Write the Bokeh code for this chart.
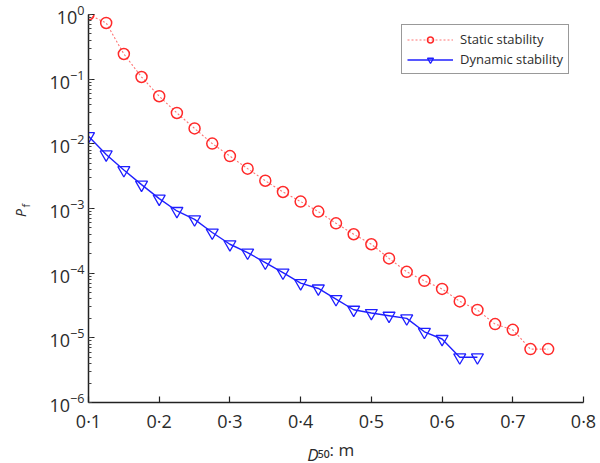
import math
from bokeh.plotting import figure
from bokeh.models import (FixedTicker, LogTicker, Range1d, Label, Legend, LegendItem)
from bokeh.embed import file_html
from bokeh.resources import INLINE

# ---- data ----
d50_static = [0.1, 0.125, 0.15, 0.175, 0.2, 0.225, 0.25, 0.275, 0.3, 0.325, 0.35,
              0.375, 0.4, 0.425, 0.45, 0.475, 0.5, 0.525, 0.55, 0.575, 0.6, 0.625,
              0.65, 0.675, 0.7, 0.725, 0.75]
pf_static = [1.0, 0.74, 0.245, 0.108, 0.0545, 0.030, 0.0173, 0.0101, 0.00646, 0.00413,
             0.00269, 0.0018, 0.00128, 0.000895, 0.00059, 0.0004, 0.00028, 0.000169,
             0.000105, 7.6e-5, 5.7e-5, 3.66e-5, 2.7e-5, 1.63e-5, 1.33e-5, 6.7e-6, 6.7e-6]

d50_dynamic = [0.1, 0.125, 0.15, 0.175, 0.2, 0.225, 0.25, 0.275, 0.3, 0.325, 0.35,
               0.375, 0.4, 0.425, 0.45, 0.475, 0.5, 0.525, 0.55, 0.575, 0.6, 0.625, 0.65]
pf_dynamic = [0.01315, 0.00686, 0.00393, 0.00234, 0.00142, 0.000916, 0.00068, 0.000425,
              0.00028, 0.000208, 0.000146, 0.000102, 7.0e-5, 5.8e-5, 3.98e-5, 2.72e-5,
              2.42e-5, 2.2e-5, 2.0e-5, 1.24e-5, 9.6e-6, 5.0e-6, 5.0e-6]

x_ticks = [0.1, 0.2, 0.3, 0.4, 0.5, 0.6, 0.7, 0.8]
x_tick_labels = ["0·1", "0·2", "0·3", "0·4", "0·5", "0·6", "0·7", "0·8"]
y_min, y_max = 1e-6, 1.0
x_min, x_max = 0.1, 0.8

series_names = ["Static stability", "Dynamic stability"]
x_title_rest = "₅₀: m"   # follows the italic "D"

FONT = "Open Sans"
TXT = "#2b2b2b"

W, H = 600, 463
B_LEFT, B_RIGHT, B_TOP, B_BOTTOM = 88, 17, 14, 60

p = figure(width=W, height=H, output_backend="svg", toolbar_location=None,
           y_axis_type="log", x_range=Range1d(x_min, x_max), y_range=Range1d(y_min, y_max))
p.min_border_left = B_LEFT
p.min_border_right = B_RIGHT
p.min_border_top = B_TOP
p.min_border_bottom = B_BOTTOM
p.outline_line_color = None
p.grid.grid_line_color = None
p.background_fill_color = "white"
p.border_fill_color = "white"

# x axis
p.xaxis.ticker = FixedTicker(ticks=x_ticks)
p.xaxis.major_label_overrides = {t: l for t, l in zip(x_ticks, x_tick_labels)}
p.xaxis.axis_label = x_title_rest
p.xaxis.axis_label_text_font = FONT
p.xaxis.axis_label_text_font_size = "17px"
p.xaxis.axis_label_text_font_style = "normal"
p.xaxis.axis_label_text_color = TXT
p.xaxis.axis_label_standoff = 2
# y axis
p.yaxis.ticker = LogTicker(num_minor_ticks=10)

for ax in (p.xaxis[0], p.yaxis[0]):
    ax.axis_line_color = "#222222"
    ax.axis_line_width = 1.5
    ax.major_tick_line_color = "#222222"
    ax.major_tick_line_width = 1.2
    ax.major_tick_in = 6
    ax.major_tick_out = 0
    ax.minor_tick_in = 3
    ax.minor_tick_out = 0
    ax.minor_tick_line_color = "#444444"
    ax.major_label_text_font = FONT
    ax.major_label_text_font_size = "18px"
    ax.major_label_text_color = TXT
p.xaxis.minor_tick_line_color = None
p.xaxis.major_label_standoff = 6
p.yaxis.major_label_standoff = 4

# series
r_line_s = p.line(d50_static, pf_static, line_color="#ff5050", line_width=1.1,
                  line_dash="2 2", line_alpha=0.8)
r_mark_s = p.scatter(d50_static, pf_static, marker="circle", size=11,
                     fill_color=None, line_color="#ff2a2a", line_width=1.5)
r_line_d = p.line(d50_dynamic, pf_dynamic, line_color="#1f1fff", line_width=1.4)
r_mark_d = p.scatter(d50_dynamic, pf_dynamic, marker="inverted_triangle", size=12,
                     fill_color=None, line_color="#1f1fff", line_width=1.3)

legend = Legend(items=[LegendItem(label=series_names[0], renderers=[r_line_s, r_mark_s]),
                       LegendItem(label=series_names[1], renderers=[r_line_d, r_mark_d])],
                location=(313, 328))
legend.glyph_width = 46
legend.glyph_height = 15
legend.label_standoff = 7
legend.padding = 5
legend.spacing = 2
legend.margin = 0
legend.label_text_font = FONT
legend.label_text_font_size = "13px"
legend.label_text_color = TXT
legend.label_height = 15
legend.border_line_color = "#333333"
legend.border_line_width = 1.5
legend.background_fill_color = "white"
legend.background_fill_alpha = 1.0
p.add_layout(legend, "center")

# ---- italic symbols of the axis titles ----
# Placed in side panels (not clipped to the plot frame), positioned through
# the plot's own scales from canvas-pixel offsets.
FR_L, FR_R = B_LEFT, W - B_RIGHT
FR_T, FR_B = B_TOP, H - B_BOTTOM
decades = math.log10(y_max) - math.log10(y_min)

def px_to_x(sx):
    return x_min + (sx - FR_L) / (FR_R - FR_L) * (x_max - x_min)

def px_to_y(sy):
    return 10 ** (math.log10(y_min) + (FR_B - sy) / (FR_B - FR_T) * decades)

def add_label(side, text, sx, sy, size, style="normal", angle=0.0, align="left"):
    p.add_layout(Label(x=px_to_x(sx), y=px_to_y(sy), x_units="data", y_units="data",
                       text=text, text_font=FONT, text_font_size=size,
                       text_font_style=style, text_color=TXT,
                       text_baseline="alphabetic", text_align=align, angle=angle), side)

add_label("right", "D", 318, 455, "17px", "italic", align="right")
add_label("left", "P", 20, 217, "14px", "italic", math.pi / 2)
add_label("left", "f", 25, 207.5, "11px", "normal", math.pi / 2)

open("out.html", "w").write(file_html(p, INLINE))
